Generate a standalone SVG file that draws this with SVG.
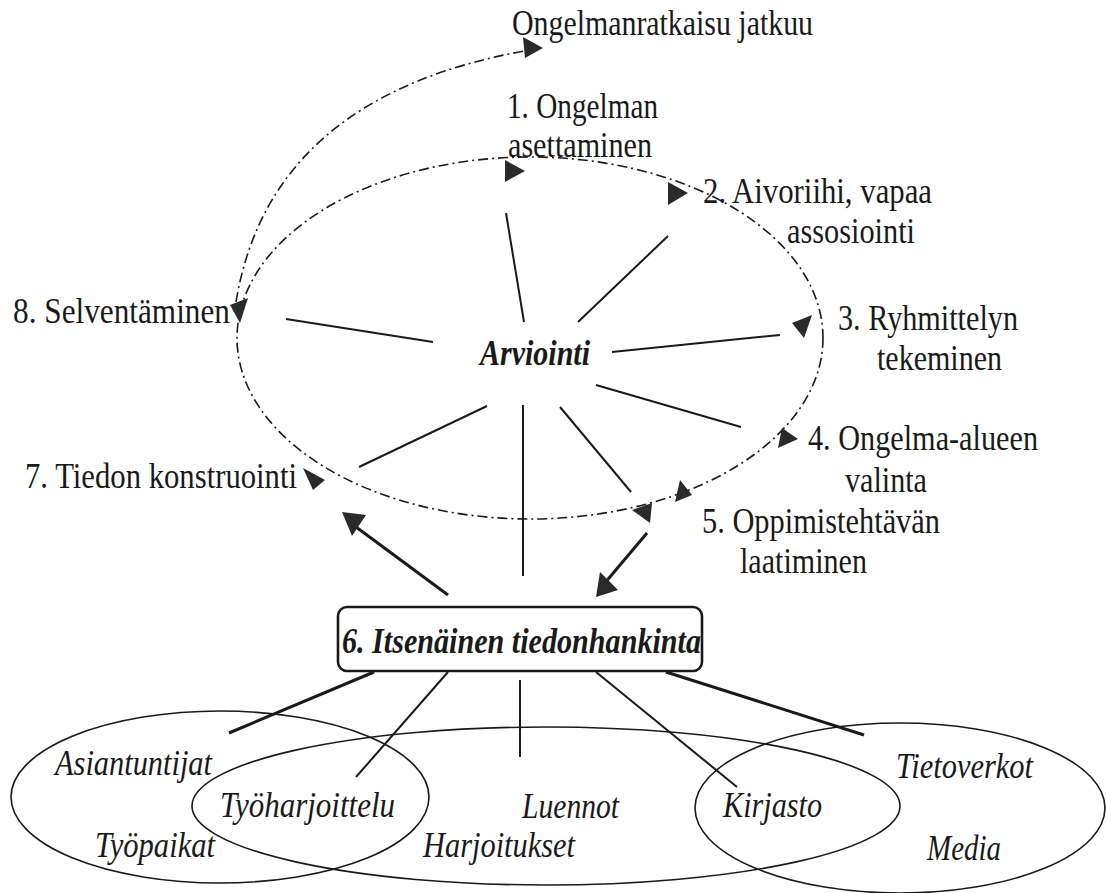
<svg xmlns="http://www.w3.org/2000/svg" width="1106" height="893" viewBox="0 0 1106 893" font-family="Liberation Serif, DejaVu Serif, serif">
<style>
text{font-family:"Liberation Serif","DejaVu Serif",serif}
.t{font-size:35px;fill:#1a1a1a}
.i{font-style:italic}
.b{font-weight:bold}
.dash{fill:none;stroke:#1a1a1a;stroke-width:1.6;stroke-dasharray:10 4 2 4}
.sp{stroke:#1a1a1a;stroke-width:2;fill:none}
.thick{stroke:#1a1a1a;stroke-width:3;fill:none}
.ah{fill:#2a2a2a;stroke:none}
.ell{fill:none;stroke:#1a1a1a;stroke-width:1.6}
</style>
<rect width="1106" height="893" fill="#ffffff"/>
<g id="connectors">
  <ellipse class="dash" cx="530" cy="338" rx="293" ry="181"/>
  <path class="dash" d="M236,302 Q270,95 530,50"/>
  <line class="sp" x1="524" y1="322" x2="506" y2="213"/>
  <line class="sp" x1="578" y1="322" x2="668" y2="236"/>
  <line class="sp" x1="612" y1="352" x2="780" y2="335"/>
  <line class="sp" x1="596" y1="385" x2="741" y2="427"/>
  <line class="sp" x1="560" y1="407" x2="631" y2="492"/>
  <line class="sp" x1="523" y1="405" x2="523" y2="576"/>
  <line class="sp" x1="487" y1="406" x2="359" y2="467"/>
  <line class="sp" x1="433" y1="342" x2="286" y2="319"/>
  <line class="thick" x1="448" y1="595" x2="352" y2="524"/>
  <polygon class="ah" points="342,512 366,515 352,536"/>
  <line class="thick" x1="647" y1="533" x2="604" y2="584"/>
  <polygon class="ah" points="596,597 600,572 618,590"/>
  <polygon class="ah" points="505,160 525,171 505,182"/>
  <polygon class="ah" points="668,182 688,193 668,205"/>
  <polygon class="ah" points="792,323 812,315 804,338"/>
  <polygon class="ah" points="782,428 798,439 778,448"/>
  <polygon class="ah" points="680,480 692,495 675,502"/>
  <polygon class="ah" points="652,503 650,523 632,510"/>
  <polygon class="ah" points="303,468 325,480 313,490"/>
  <polygon class="ah" points="230,305 248,298 240,323"/>
  <polygon class="ah" points="523,37 543,48 525,58"/>
  <line class="thick" x1="374" y1="672" x2="229" y2="733"/>
  <line class="sp" x1="448" y1="672" x2="356" y2="777"/>
  <line class="sp" x1="520" y1="680" x2="520" y2="757"/>
  <line class="sp" x1="596" y1="672" x2="737" y2="787"/>
  <line class="thick" x1="666" y1="672" x2="864" y2="735"/>
</g>
<g id="n-jatkuu"><text class="t" x="512" y="35" textLength="301" lengthAdjust="spacingAndGlyphs">Ongelmanratkaisu jatkuu</text></g>
<g id="n-1"><text class="t" x="507" y="118" textLength="151" lengthAdjust="spacingAndGlyphs">1. Ongelman</text><text class="t" x="508" y="157" textLength="144" lengthAdjust="spacingAndGlyphs">asettaminen</text></g>
<g id="n-2"><text class="t" x="703" y="203" textLength="229" lengthAdjust="spacingAndGlyphs">2. Aivoriihi, vapaa</text><text class="t" x="787" y="243" textLength="128" lengthAdjust="spacingAndGlyphs">assosiointi</text></g>
<g id="n-3"><text class="t" x="838" y="330" textLength="180" lengthAdjust="spacingAndGlyphs">3. Ryhmittelyn</text><text class="t" x="877" y="370" textLength="125" lengthAdjust="spacingAndGlyphs">tekeminen</text></g>
<g id="n-4"><text class="t" x="808" y="450" textLength="230" lengthAdjust="spacingAndGlyphs">4. Ongelma-alueen</text><text class="t" x="845" y="492" textLength="82" lengthAdjust="spacingAndGlyphs">valinta</text></g>
<g id="n-5"><text class="t" x="702" y="533" textLength="238" lengthAdjust="spacingAndGlyphs">5. Oppimistehtävän</text><text class="t" x="740" y="573" textLength="127" lengthAdjust="spacingAndGlyphs">laatiminen</text></g>
<g id="n-7"><text class="t" x="25" y="488" textLength="272" lengthAdjust="spacingAndGlyphs">7. Tiedon konstruointi</text></g>
<g id="n-8"><text class="t" x="13" y="323" textLength="217" lengthAdjust="spacingAndGlyphs">8. Selventäminen</text></g>
<g id="n-arviointi"><text class="t i b" x="480" y="365" textLength="110" lengthAdjust="spacingAndGlyphs">Arviointi</text></g>
<g id="n-6">
  <rect x="338" y="607" width="364" height="64" rx="9" fill="#ffffff" stroke="#1a1a1a" stroke-width="2.6"/>
  <text class="t i b" x="342" y="653" textLength="359" lengthAdjust="spacingAndGlyphs">6. Itsenäinen tiedonhankinta</text>
</g>
<g id="n-sources-left">
  <ellipse class="ell" cx="220" cy="797" rx="209" ry="86"/>
</g>
<g id="n-sources-middle">
  <ellipse class="ell" cx="546" cy="806" rx="354" ry="79"/>
</g>
<g id="n-sources-right">
  <ellipse class="ell" cx="900" cy="808" rx="205" ry="85"/>
</g>
<g id="n-labels">
  <text class="t i" x="55" y="775" textLength="157" lengthAdjust="spacingAndGlyphs">Asiantuntijat</text>
  <text class="t i" x="220" y="817" textLength="175" lengthAdjust="spacingAndGlyphs">Työharjoittelu</text>
  <text class="t i" x="522" y="818" textLength="97" lengthAdjust="spacingAndGlyphs">Luennot</text>
  <text class="t i" x="723" y="817" textLength="99" lengthAdjust="spacingAndGlyphs">Kirjasto</text>
  <text class="t i" x="896" y="778" textLength="137" lengthAdjust="spacingAndGlyphs">Tietoverkot</text>
  <text class="t i" x="95" y="857" textLength="120" lengthAdjust="spacingAndGlyphs">Työpaikat</text>
  <text class="t i" x="423" y="857" textLength="152" lengthAdjust="spacingAndGlyphs">Harjoitukset</text>
  <text class="t i" x="927" y="860" textLength="74" lengthAdjust="spacingAndGlyphs">Media</text>
</g>
</svg>
